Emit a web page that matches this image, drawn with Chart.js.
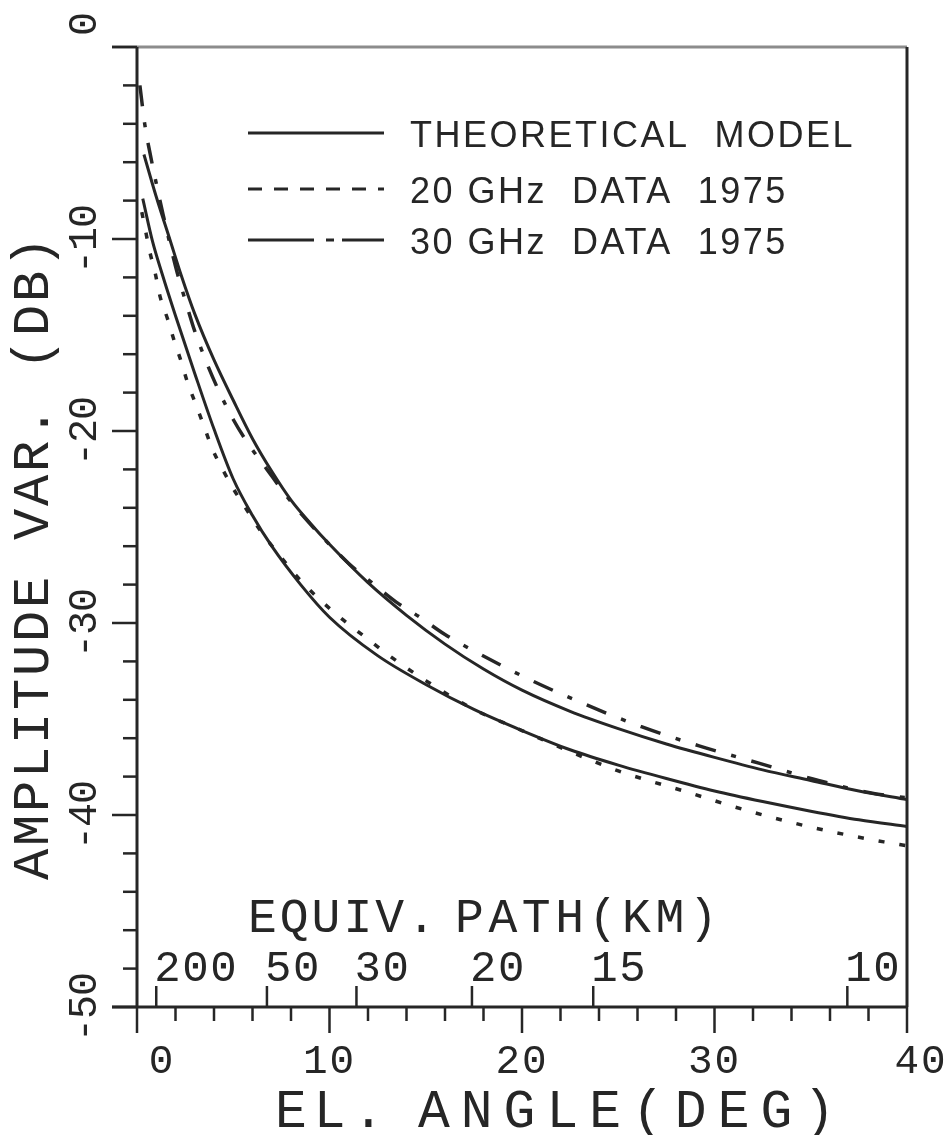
<!DOCTYPE html>
<html>
<head>
<meta charset="utf-8">
<title>Amplitude variance vs elevation angle</title>
<script src="https://cdn.jsdelivr.net/npm/chart.js@4.4.1/dist/chart.umd.min.js"></script>
<style>
  html, body { margin: 0; padding: 0; background: #fff; }
  #wrap { width: 947px; height: 1135px; }
</style>
</head>
<body>
<div id="wrap"><canvas id="c" width="947" height="1135"></canvas></div>
<script>
/* amplitude variance vs elevation angle — theory curves + 1975 20/30 GHz data */

// [elevation angle (deg), amplitude variance (dB)]
var theory30 = [[0.36, -5.6], [1, -7.8], [1.7, -10.0], [2.3, -11.9], [3, -13.9], [4, -16.3], [5, -18.4],
  [6, -20.4], [7, -22.1], [8, -23.6], [9, -24.8], [10, -25.9], [12, -27.9], [14, -29.6], [16, -31.1],
  [18, -32.4], [20, -33.5], [22.5, -34.6], [25, -35.5], [27.5, -36.3], [30, -37.0], [32.5, -37.65],
  [35, -38.2], [37.5, -38.75], [40, -39.2]];
var theory20 = [[0.3, -7.9], [0.8, -10.1], [1.3, -11.8], [2, -14.0], [3, -17.0], [4, -19.9], [5, -22.5],
  [6, -24.4], [7, -26.0], [8.5, -28.0], [10, -29.7], [12.5, -31.7], [15, -33.2], [17.5, -34.5],
  [20, -35.6], [22.5, -36.6], [25, -37.4], [27.5, -38.1], [30, -38.75], [32.5, -39.3], [35, -39.8],
  [37.5, -40.25], [40, -40.6]];
var data20 = [[0.25, -8.6], [0.45, -9.6], [0.65, -10.6], [0.95, -11.8], [1.2, -13.0], [1.6, -14.2],
  [1.9, -15.2], [2.3, -16.4], [2.6, -17.4], [3.05, -18.6], [3.5, -19.8], [3.9, -20.9], [4.5, -22.1],
  [5, -23.0], [5.7, -24.1], [6.35, -25.1], [7.5, -26.6], [8.6, -27.9], [10.3, -29.5], [12.2, -31.0],
  [13.1, -31.7], [15, -33.0], [17.5, -34.5], [20, -35.6], [22.5, -36.7], [25, -37.7], [28.4, -38.75],
  [31.8, -39.8], [35.3, -40.7], [38.8, -41.4], [40, -41.6]];
var data30 = [[0.15, -2.0], [0.4, -4.0], [0.75, -5.9], [1, -7.1], [1.35, -8.7], [1.7, -10.2], [2.1, -11.8],
  [2.6, -13.5], [3, -14.8], [3.6, -16.4], [4.2, -17.8], [5, -19.4], [5.8, -20.7], [6.75, -22.0],
  [7.7, -23.3], [8.6, -24.4], [9.8, -25.7], [11, -26.9], [12.2, -27.9], [13.45, -28.9], [14.7, -29.7],
  [16, -30.6], [17.4, -31.4], [20.3, -32.9], [23.2, -34.2], [26.2, -35.4], [29.2, -36.4], [32.3, -37.3],
  [35.4, -38.2], [38.4, -38.9], [40, -39.1]];

// axes
var xTickLabels = [0, 10, 20, 30, 40];
var yTickLabels = [0, -10, -20, -30, -40, -50];
var kmTickDeg = [1.0, 6.75, 11.4, 17.4, 23.7, 36.9];   // where each path length sits on the angle axis
var kmTickLabels = ['200', '50', '30', '20', '15', '10'];
var legendLabels = ['THEORETICAL  MODEL', '20 GHz  DATA  1975', '30 GHz  DATA  1975'];

var INK = '#262626';
var MONO = '"Liberation Mono", "DejaVu Sans Mono", monospace';
var SANS = '"Liberation Sans", Arial, sans-serif';

function pts(arr) { return arr.map(function (p) { return { x: p[0], y: p[1] }; }); }

function seg(ctx, x1, y1, x2, y2) {
  ctx.beginPath(); ctx.moveTo(x1, y1); ctx.lineTo(x2, y2); ctx.stroke();
}

function txt(ctx, s, x, y, font, spacing, align, baseline) {
  ctx.font = font;
  ctx.letterSpacing = (spacing || 0) + 'px';
  ctx.textAlign = align || 'left';
  ctx.textBaseline = baseline || 'alphabetic';
  ctx.fillText(s, x, y);
  ctx.letterSpacing = '0px';
}

/** Frame, tick marks, tick labels, titles and the inset legend, all
 * positioned through the chart's own x/y scales. */
var plotFrame = {
  id: 'plotFrame',
  beforeDatasetsDraw: function (chart) {
    var ctx = chart.ctx, xs = chart.scales.x, ys = chart.scales.y, a = chart.chartArea;
    var v, p, len;
    ctx.save();
    ctx.lineCap = 'butt';
    ctx.lineWidth = 3;
    ctx.strokeStyle = '#8c8c8c';
    seg(ctx, a.left - 25, a.top, a.right, a.top);
    ctx.strokeStyle = INK;
    seg(ctx, a.left, a.top, a.left, a.bottom);
    seg(ctx, a.right, a.top, a.right, a.bottom);
    seg(ctx, a.left - 25, a.bottom, a.right, a.bottom);

    ctx.lineWidth = 2.5;
    for (v = 0; v >= -50; v -= 2) {          // y ticks, long at each label
      p = ys.getPixelForValue(v);
      len = (v % 10 === 0) ? 25 : 14;
      seg(ctx, a.left - len, p, a.left, p);
    }
    for (v = 0; v <= 40; v += 2) {            // angle ticks hang below the axis
      p = xs.getPixelForValue(v);
      len = (v % 10 === 0) ? 26 : 14;
      seg(ctx, p, a.bottom, p, a.bottom + len);
    }
    kmTickDeg.forEach(function (d) {          // path-length ticks point up
      p = xs.getPixelForValue(d);
      seg(ctx, p, a.bottom, p, a.bottom - 21);
    });
    ctx.restore();
  },
  afterDraw: function (chart) {
    var ctx = chart.ctx, xs = chart.scales.x, ys = chart.scales.y;
    ctx.save();
    ctx.fillStyle = INK;

    xTickLabels.forEach(function (v) {
      var nudge = v === 0 ? 25 : (v === 40 ? 14 : 0);
      txt(ctx, String(v), xs.getPixelForValue(v) + nudge, 1073, '41px ' + MONO, 2, 'center');
    });
    kmTickLabels.forEach(function (s, i) {
      txt(ctx, s, xs.getPixelForValue(kmTickDeg[i]) - 2, 981, '44px ' + MONO, 1.6, 'left');
    });
    txt(ctx, 'EQUIV.', 248, 932, '48px ' + MONO, 3, 'left');
    txt(ctx, 'PATH(KM)', 455, 932, '48px ' + MONO, 4.6, 'left');
    txt(ctx, 'EL.', 275, 1127, '53px ' + MONO, 7, 'left');
    txt(ctx, 'ANGLE(DEG)', 418, 1127, '53px ' + MONO, 11, 'left');

    // y labels read bottom-to-top, right aligned in a 3-char field centred on the tick
    yTickLabels.forEach(function (v) {
      var p = ys.getPixelForValue(v);
      ctx.save();
      ctx.translate(85, p);
      ctx.rotate(-Math.PI / 2);
      txt(ctx, String(v), 34, 0, '40px ' + MONO, -1, 'right', 'middle');
      ctx.restore();
    });
    ctx.save();
    ctx.translate(34, 557);
    ctx.rotate(-Math.PI / 2);
    txt(ctx, 'AMPLITUDE VAR. (DB)', 0, 0, '52px ' + MONO, 2.8, 'center', 'middle');
    ctx.restore();

    // legend
    var rows = [133, 189, 240];
    var dashes = [[], [14, 12], [66, 12, 8, 8, 60]];
    ctx.strokeStyle = INK;
    ctx.lineWidth = 3;
    rows.forEach(function (y, i) {
      ctx.setLineDash(dashes[i]);
      seg(ctx, 248, y, 384, y);
      ctx.setLineDash([]);
      txt(ctx, legendLabels[i], 410, y + 14, '36px ' + SANS, 2.5, 'left');
    });
    ctx.restore();
  }
};

function series(label, arr, dash, width) {
  return {
    label: label, data: pts(arr),
    borderColor: INK, borderWidth: width, borderDash: dash, borderCapStyle: 'butt',
    pointRadius: 0, fill: false, cubicInterpolationMode: 'monotone'
  };
}

new Chart(document.getElementById('c').getContext('2d'), {
  type: 'line',
  data: {
    datasets: [
      series('Theoretical model (30 GHz)', theory30, [], 3),
      series('Theoretical model (20 GHz)', theory20, [], 3),
      series('20 GHz data 1975', data20, [6, 15], 3.5),
      series('30 GHz data 1975', data30, [21, 16, 5, 16], 3.5)
    ]
  },
  options: {
    responsive: false, animation: false, devicePixelRatio: 1,
    layout: { padding: { left: 137, top: 47, right: 40, bottom: 128 } },
    plugins: { legend: { display: false }, tooltip: { enabled: false } },
    scales: {
      x: { type: 'linear', min: 0, max: 40, display: false },
      y: { type: 'linear', min: -50, max: 0, display: false }
    }
  },
  plugins: [plotFrame]
});
</script>
</body>
</html>
